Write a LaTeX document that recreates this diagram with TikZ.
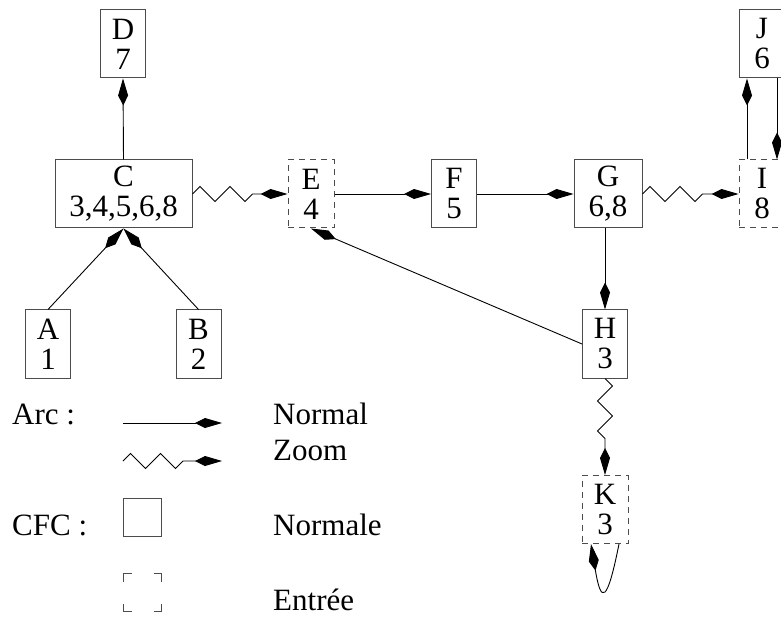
\documentclass[tikz,border=0pt]{standalone}
\usepackage{fontspec}
\setmainfont{Liberation Serif}
\usetikzlibrary{arrows.meta,decorations.pathmorphing,calc}
\begin{document}
\begin{tikzpicture}[x=1pt,y=-1pt,
  every node/.style={font=\fontsize{31}{30}\selectfont},
  cfc/.style={draw=black!70, line width=1pt, rectangle, inner sep=0pt,
    minimum width=45pt, minimum height=68pt, align=center},
  entree/.style={cfc, minimum width=46pt, dash pattern=on 6pt off 5pt},
  normalarc/.style={line width=0.9pt, -{Kite[length=27pt,width=10pt,inset=10pt]}},
  zoomarc/.style={normalarc, decorate,
    decoration={zigzag, segment length=30pt, amplitude=7.5pt, post length=30pt}},
  legtext/.style={anchor=base west, inner sep=0pt}
]
\useasboundingbox (0,0) rectangle (781,617);

% components
\node[cfc] (D) at (123,44) {D\\7};
\node[cfc, minimum width=137pt] (C) at (123.5,194) {C\\3,4,5,6,8};
\node[cfc] (A) at (48,344) {A\\1};
\node[cfc] (B) at (198.5,344) {B\\2};
\node[entree] (E) at (311,194) {E\\4};
\node[cfc] (F) at (454,194) {F\\5};
\node[cfc, minimum width=68pt] (G) at (608,194) {G\\6,8};
\node[entree] (I) at (762,194) {I\\8};
\node[cfc, minimum width=46pt] (J) at (762,44) {J\\6};
\node[cfc] (H) at (605,344) {H\\3};
\node[entree] (K) at (605,509.5) {K\\3};

% arcs
\draw[normalarc] (C.north) -- (D.south);
\draw[normalarc] (A.north) -- (C.south);
\draw[normalarc] (B.north) -- (C.south);
\draw[zoomarc] (C.east) -- (E.west);
\draw[normalarc] (E.east) -- (F.west);
\draw[normalarc] (F.east) -- (G.west);
\draw[zoomarc] (G.east) -- (I.west);
\draw[normalarc] (G.south -| H.north) -- (H.north);
\draw[normalarc] (H.west) -- (E.south);
\draw[zoomarc] (H.south) -- (K.north);
\draw[normalarc] ([xshift=-15pt]I.north) -- ([xshift=-15pt]J.south);
\draw[normalarc] ([xshift=15pt]J.south) -- ([xshift=15pt]I.north);
\coordinate (Kout) at ([xshift=14pt]K.south);
\coordinate (Kin) at ([xshift=-14pt]K.south);
\draw[normalarc] (Kout) .. controls +(-12,60) and +(10,60) .. (Kin);

% legend
\node[legtext] (arclab) at (12,424) {Arc :};
\coordinate (n0) at (123,423);
\coordinate (n1) at (222,423);
\draw[normalarc] (n0) -- (n1);
\node[legtext] (normallab) at (273,424) {Normal};
\coordinate (z0) at (123,461);
\coordinate (z1) at (222,461);
\draw[zoomarc] (z0) -- (z1);
\node[legtext] (zoomlab) at (273,460) {Zoom};
\node[legtext] (cfclab) at (12,535) {CFC :};
\node[draw=black!70, line width=1pt, minimum size=38pt, inner sep=0pt] (boxn) at (142.5,517) {};
\node[legtext] (normalelab) at (273,535) {Normale};
\node[draw=black!70, line width=1pt, minimum size=38pt, inner sep=0pt,
  dash pattern=on 16pt off 22pt, dash phase=8pt] (boxe) at (142.5,592.5) {};
\node[legtext] (entreelab) at (273,610) {Entrée};
\end{tikzpicture}
\end{document}
